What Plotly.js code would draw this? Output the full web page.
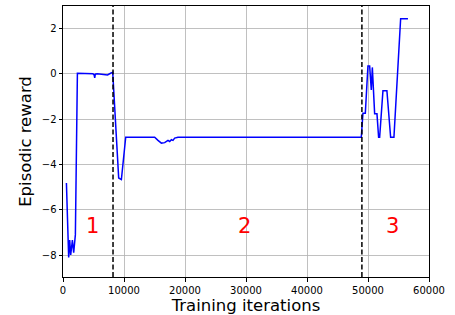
<!DOCTYPE html>
<html>
<head>
<meta charset="utf-8">
<script src="https://cdn.plot.ly/plotly-3.0.1.min.js"></script>
<style>html,body{margin:0;padding:0;background:#fff;}#chart{width:455px;height:315px;}</style>
</head>
<body>
<div id="chart"></div>
<script>
// Training iterations (x) and episodic reward (y)
const iterations = [560, 930, 1100, 1260, 1540, 1750, 2030, 2360, 4900, 5100, 5200, 5300, 5600, 6900, 7300, 7800, 8150,
  9130, 9570, 10280, 15030, 15570, 16130, 16670, 17210, 17490, 17770, 18030, 18310, 18850,
  48900, 49170, 49560, 49990, 50270, 50540, 50710, 51090, 51470, 51740, 51910, 52450, 53100,
  53710, 54250, 55350, 56550];
const rewards = [-4.82, -8.11, -7.34, -8.0, -7.34, -7.9, -7.1, 0.02, 0.0, -0.05, -0.18, -0.02, 0.0, -0.03, -0.05, 0.02, 0.06,
  -4.6, -4.67, -2.8, -2.8, -2.94, -3.06, -3.04, -2.94, -2.99, -2.91, -2.94, -2.84, -2.8,
  -2.8, -1.74, -1.74, 0.34, 0.34, -0.72, 0.28, -1.77, -1.77, -2.8, -2.8, -0.75, -0.75,
  -2.8, -2.8, 2.43, 2.43];

// Phase boundaries (dashed lines) and phase labels
const phaseBoundaries = [8200, 49000];
const phaseLabels = ["1", "2", "3"];
const phaseLabelX = [4870, 29780, 54040];
const phaseLabelY = [-6.74, -6.74, -6.74];

const xTicks = [0, 10000, 20000, 30000, 40000, 50000, 60000];
const yTicks = [-8, -6, -4, -2, 0, 2];

const trace = {
  x: iterations, y: rewards, type: 'scatter', mode: 'lines',
  line: {color: '#0000ff', width: 1.5}, hoverinfo: 'skip'
};

const shapes = phaseBoundaries.map(b => ({
  type: 'line', xref: 'x', yref: 'paper', x0: b, x1: b, y0: 0, y1: 1,
  line: {color: '#000', width: 1.5, dash: '5px,2.5px'}
}));

const annotations = phaseLabels.map((t, i) => ({
  x: phaseLabelX[i], y: phaseLabelY[i], xref: 'x', yref: 'y', text: t,
  showarrow: false, font: {family: 'DejaVu Sans', size: 21, color: '#ff0000'}
}));

const axisCommon = {
  showline: true, linecolor: '#000', linewidth: 1, mirror: true,
  ticks: 'outside', ticklen: 3.5, tickwidth: 1, tickcolor: '#000',
  showgrid: true, gridcolor: '#b0b0b0', gridwidth: 0.8, zeroline: false,
  tickfont: {family: 'DejaVu Sans', size: 10, color: '#000'}
};

const layout = {
  width: 455, height: 315,
  margin: {l: 63, r: 26, t: 6, b: 38},
  paper_bgcolor: '#fff', plot_bgcolor: '#fff',
  showlegend: false,
  xaxis: Object.assign({}, axisCommon, {
    range: [0, 60000], tickmode: 'array', tickvals: xTicks,
    ticktext: xTicks.map(String),
    title: {text: 'Training iterations', font: {family: 'DejaVu Sans', size: 16.5, color: '#000'}, standoff: 6}
  }),
  yaxis: Object.assign({}, axisCommon, {
    range: [-8.97, 2.99], tickmode: 'array', tickvals: yTicks,
    title: {text: 'Episodic reward', font: {family: 'DejaVu Sans', size: 16.5, color: '#000'}, standoff: 5}
  }),
  shapes: shapes,
  annotations: annotations
};

Plotly.newPlot('chart', [trace], layout, {staticPlot: true, displayModeBar: false});
</script>
</body>
</html>
